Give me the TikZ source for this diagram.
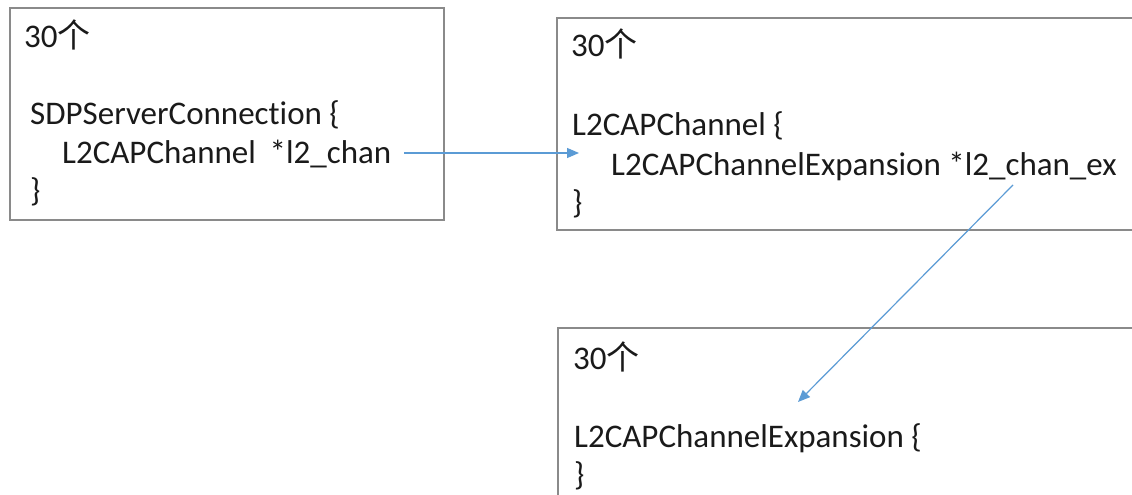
\documentclass[tikz,border=0pt]{standalone}
\usepackage{fontspec}
\setmainfont[Ligatures=NoCommon]{Carlito}
\newfontfamily\cjk{Noto Sans CJK SC}
\usetikzlibrary{arrows.meta}
\definecolor{boxgray}{HTML}{8A8A8A}
\definecolor{linkblue}{HTML}{5B9BD5}
\definecolor{ink}{HTML}{1A1A1A}
\begin{document}
\begin{tikzpicture}[x=1pt,y=-1pt,
  panel/.style={draw=boxgray, line width=1.4pt},
  code/.style={anchor=base west, inner sep=0pt, text=ink,
    font=\fontsize{33}{40}\selectfont},
  link/.style={draw=linkblue, line width=1.2pt,
    -{Triangle[length=12pt,width=10pt]}}]
  \clip (0,0) rectangle (1132,495);
  \fill[white] (0,0) rectangle (1132,495);

  % struct boxes
  \draw[panel] (10,8) rectangle (444,220);
  \draw[panel] (557,18) rectangle (1145,230);
  \draw[panel] (558,328) rectangle (1145,510);

  % SDPServerConnection
  \node[code] (a0) at (24,48) {30{\cjk 个}};
  \node[code] (a1) at (30,124) {SDPServerConnection \{};
  \node[code] (a2) at (62,163) {L2CAPChannel\hspace{0.42em}*l2\_chan};
  \node[code] (a3) at (30,201) {\}};

  % L2CAPChannel
  \node[code] (b0) at (571,57) {30{\cjk 个}};
  \node[code] (b1) at (572,135) {L2CAPChannel \{};
  \node[code] (b2) at (611,175) {L2CAPChannelExpansion *l2\_chan\_ex};
  \node[code] (b3) at (572,213) {\}};

  % L2CAPChannelExpansion
  \node[code] (c0) at (573,369) {30{\cjk 个}};
  \node[code] (c1) at (574,447) {L2CAPChannelExpansion \{};
  \node[code] (c2) at (574,485) {\}};

  % pointer links
  \coordinate (p1) at (404,153);
  \coordinate (q1) at (579,153);
  \coordinate (p2) at (1013,185);
  \coordinate (q2) at (798,402);
  \draw[link] (p1) -- (q1);
  \draw[link] (p2) -- (q2);
\end{tikzpicture}
\end{document}
